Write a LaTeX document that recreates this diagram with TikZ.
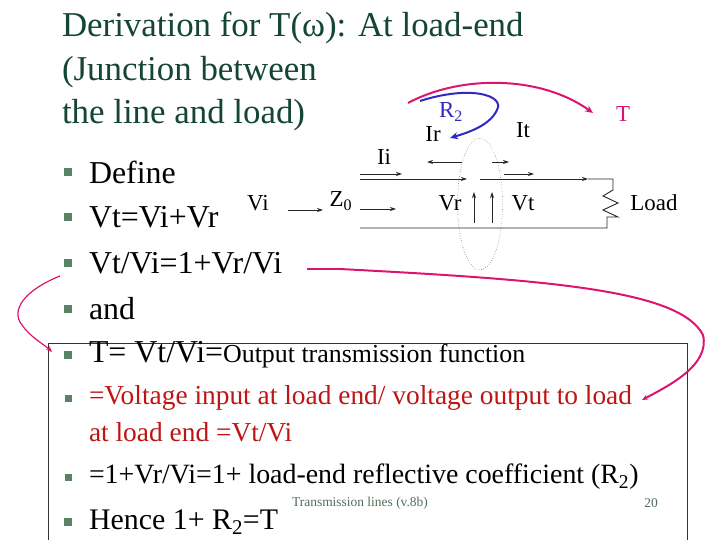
\documentclass[tikz,border=0pt]{standalone}
\usepackage{fontspec}
\setmainfont{Liberation Serif}
\usetikzlibrary{arrows.meta,shapes.geometric}
\definecolor{ttl}{RGB}{20,70,50}
\definecolor{blt}{RGB}{90,130,100}
\definecolor{mag}{RGB}{220,20,110}
\definecolor{blu}{RGB}{50,40,190}
\definecolor{rd}{RGB}{190,20,20}
\definecolor{ft}{RGB}{80,110,90}
\begin{document}
\begin{tikzpicture}[x=1bp,y=-1bp,
 every node/.style={inner sep=0pt,outer sep=0pt},
 ttlt/.style={anchor=west,text=ttl,font=\fontsize{35}{37}\selectfont},
 bl/.style={fill=blt,minimum size=8bp},
 big/.style={anchor=west,font=\fontsize{32}{34}\selectfont},
 mid/.style={anchor=west,font=\fontsize{27.5}{29}\selectfont},
 lab/.style={font=\fontsize{23}{25}\selectfont},
 wire/.style={line width=0.9pt,black!85},
 arr/.style={wire,-{Stealth[length=6bp,width=4bp]}},
 mg/.style={mag,line width=2pt},
]
\useasboundingbox (0,0) rectangle (720,540);
\draw[line width=0.6pt,black!80] (48,343) rectangle (687,545);
% title
\node[ttlt] (t1) at (62,28) {Derivation for T(ω): At load-end};
\node[ttlt] (t2) at (62,72) {(Junction between};
\node[ttlt] (t3) at (62,115) {the line and load)};
% bullets
\foreach \y/\n in {172/b1,217/b2,263/b3,309/b4,355/b5,522/b8}{\node[bl] (\n) at (68,\y) {};}
\foreach \y/\n in {398/b6,477/b7}{\node[bl,minimum size=7bp] (\n) at (68,\y) {};}
\node[big] (l1) at (89,172) {Define};
\node[big] (l2) at (89,217) {Vt=Vi+Vr};
\node[big] (l3) at (89,263) {Vt/Vi=1+Vr/Vi};
\node[big] (l4) at (89,309) {and};
\node[big] (l5) at (89,355) {T= Vt/Vi={\rmfamily\fontsize{26}{28}\selectfont Output transmission function}};
\node[mid,text=rd] (l6) at (89,398) {=Voltage input at load end/ voltage output to load};
\node[mid,text=rd] (l6b) at (89,432) {at load end =Vt/Vi};
\node[mid,font=\fontsize{28}{30}\selectfont] (l7) at (89,477) {=1+Vr/Vi=1+ load-end reflective coefficient (R\textsubscript{2})};
\node[big,font=\fontsize{30}{32}\selectfont] (l8) at (89,522) {Hence 1+ R\textsubscript{2}=T};
\node[text=ft,font=\fontsize{13.5}{15}\selectfont] (f1) at (360,503) {Transmission lines (v.8b)};
\node[text=ft,font=\fontsize{13.5}{15}\selectfont] (f2) at (651,503) {20};
% circuit
\coordinate (w1) at (360,179); \coordinate (w2) at (613,179);
\coordinate (w3) at (360,228); \coordinate (w4) at (607,228);
\draw[arr] (w1) -- (467,179);
\draw[arr] (480,179) -- (588,179);
\draw[wire] (588,179) -- (w2) -- (613,190) -- (603,196) -- (618,203) -- (603,210) -- (618,217) -- (607,217) -- (w4) -- (w3);
\draw[arr] (360,174) -- (402,174);
\draw[arr] (360,209) -- (396,209);
\draw[arr] (288,210) -- (323,210);
\draw[arr] (462,162) -- (427,162);
\draw[arr] (492,162) -- (509,162);
\draw[arr] (504,174) -- (534,174);
\draw[arr] (474,223) -- (474,192);
\draw[arr] (492,223) -- (492,192);
\node[draw,dotted,ellipse,minimum width=45bp,minimum height=132bp,thin] (el) at (480,204) {};
\node[lab] (Ii) at (384,157) {Ii};
\node[lab] (Ir) at (433,134) {Ir};
\node[lab] (It) at (523,130) {It};
\node[lab,text=blu] (R2) at (451,112) {R\textsubscript{2}};
\node[lab,text=mag] (T) at (623,114) {T};
\node[lab] (Vr) at (450,203) {Vr};
\node[lab] (Vt) at (523,203) {Vt};
\node[lab] (Ld) at (654,203) {Load};
\node[lab] (Z0) at (341,201) {Z\textsubscript{0}};
\node[lab] (Vi) at (258,203) {Vi};
% curved arrows
\draw[blu,line width=2pt,-{Stealth[length=8bp,width=7bp]}] (420,101) .. controls (470,85) and (505,95) .. (497,110) .. controls (490,125) and (470,132) .. (450,138);
\draw[mg,-{Stealth[length=8bp,width=7bp]}] (408,103) .. controls (460,75) and (540,75) .. (593,113);
\draw[mg,-{Stealth[length=6bp,width=5bp]}] (307,269) -- (340,269) .. controls (550,280) and (680,290) .. (703,335) .. controls (710,365) and (670,385) .. (642,400);
\draw[mg,line width=1.2pt,-{Stealth[length=6bp,width=5bp]}] (60,276) .. controls (25,290) and (10,310) .. (22,325) .. controls (30,337) and (45,345) .. (52,352);
\end{tikzpicture}
\end{document}
